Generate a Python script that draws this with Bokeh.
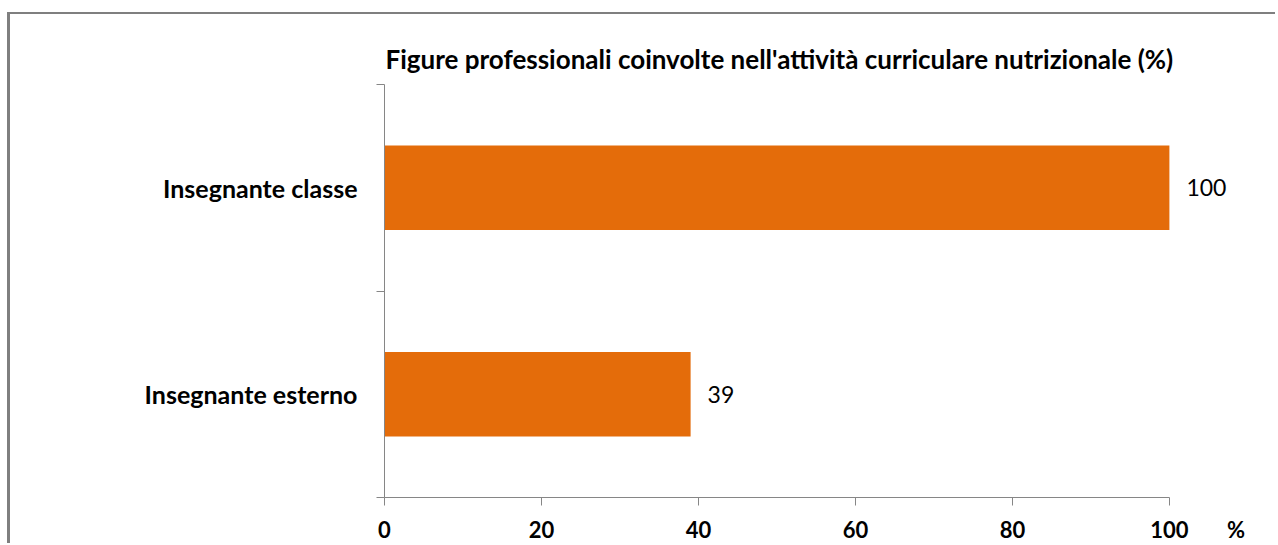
from bokeh.plotting import figure
from bokeh.models import Range1d, FixedTicker, LinearAxis
from bokeh.core.properties import value as V
from bokeh.embed import file_html
from bokeh.resources import INLINE

# ---- data ----
title_text = "Figure professionali coinvolte nell'attività curriculare nutrizionale (%)"
categories = ["Insegnante classe", "Insegnante esterno"]
values = [100, 39]
x_ticks = [0, 20, 40, 60, 80, 100]
unit_label = "%"

n = len(categories)
ypos = [n - i - 0.5 for i in range(n)]
unit_pos = 108.5

FONT = "Lato"
AXIS_COLOR = "#868686"
BAR_COLOR = "#E46C0A"

p = figure(width=1268, height=531, output_backend="svg", toolbar_location=None,
           x_range=Range1d(0, 113.9), y_range=Range1d(0, n),
           min_border_left=374, min_border_top=70, min_border_bottom=45,
           min_border_right=0)
p.styles = {"border-top": "2px solid #7f7f7f", "border-left": "3px solid #7f7f7f",
            "margin-top": "12px", "margin-left": "7px"}
p.outline_line_color = None
p.grid.visible = False
p.background_fill_color = "white"
p.border_fill_color = "white"

p.title.text = title_text
p.title.align = "left"
p.title.offset = 1
p.title.standoff = 19
p.title.text_font = FONT
p.title.text_font_style = "bold"
p.title.text_font_size = "26px"
p.title.text_color = "black"

p.hbar(y=ypos, right=values, left=0, height=0.41, color=BAR_COLOR, line_color=None)

p.text(x=values, y=ypos, text=[str(v) for v in values], x_offset=17,
       text_baseline="middle", text_align="left", text_font=V(FONT),
       text_font_size="23px", text_color="black")

# x axis: line + tick marks only (inner); tick marks drawn as minor ticks
xa = p.xaxis[0]
xa.ticker = FixedTicker(ticks=[], minor_ticks=x_ticks)
xa.bounds = (x_ticks[0], x_ticks[-1])
xa.axis_line_color = AXIS_COLOR
xa.major_tick_line_color = None
xa.major_tick_out = 8
xa.major_tick_in = 0
xa.minor_tick_line_color = AXIS_COLOR
xa.minor_tick_out = 8
xa.minor_tick_in = 0
xa.major_label_standoff = 0

# x axis: labels incl. unit (outer)
xl = LinearAxis(ticker=FixedTicker(ticks=x_ticks + [unit_pos], minor_ticks=[]),
                major_label_overrides={unit_pos: unit_label})
xl.axis_line_color = None
xl.major_tick_line_color = None
xl.minor_tick_line_color = None
xl.major_tick_out = 0
xl.major_tick_in = 0
xl.major_label_standoff = 10
xl.major_label_text_font = FONT
xl.major_label_text_font_style = "bold"
xl.major_label_text_font_size = "22px"
xl.major_label_text_color = "black"
p.add_layout(xl, "below")

# y axis
ya = p.yaxis[0]
ya.ticker = FixedTicker(ticks=ypos, minor_ticks=list(range(n + 1)))
ya.major_label_overrides = {y: c for y, c in zip(ypos, categories)}
ya.axis_line_color = AXIS_COLOR
ya.major_tick_line_color = None
ya.major_tick_out = 8
ya.major_tick_in = 0
ya.minor_tick_line_color = AXIS_COLOR
ya.minor_tick_out = 8
ya.minor_tick_in = 0
ya.major_label_standoff = 19
ya.major_label_text_font = FONT
ya.major_label_text_font_style = "bold"
ya.major_label_text_font_size = "25px"
ya.major_label_text_color = "black"

open("out.html", "w").write(file_html(p, INLINE))
